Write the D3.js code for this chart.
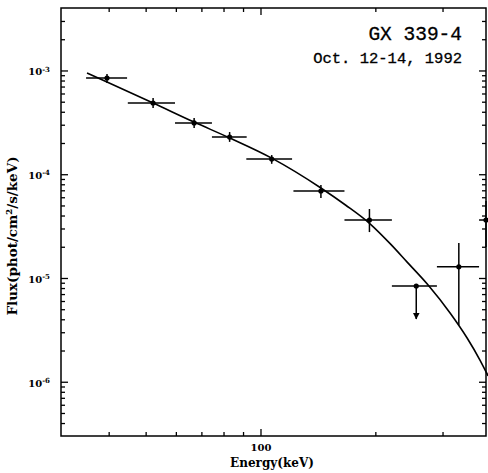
<!DOCTYPE html>
<html>
<head>
<meta charset="utf-8">
<script src="https://cdn.jsdelivr.net/npm/d3@7"></script>
<style>
  html, body { margin: 0; padding: 0; background: #fff; }
  svg { display: block; }
</style>
</head>
<body>
<div class="spectrum-canvas"></div>
<script>
// OSSE spectrum points (energy in keV, flux in phot/cm^2/s/keV)
let energy = [39.6, 52.3, 67, 83, 107, 144, 193, 256, 331, 390];
let energyLo = [34.9, 44.9, 59.7, 74.6, 91.8, 122, 166, 221, 290, 374];
let energyHi = [44.7, 59.7, 74.6, 92, 121, 166, 221, 290, 374, 450];
let flux = [8.46e-4, 4.86e-4, 3.12e-4, 2.28e-4, 1.40e-4, 6.89e-5, 3.62e-5, 8.37e-6, 1.28e-5, 3.62e-5];
let fluxLo = [7.57e-4, 4.35e-4, 2.79e-4, 2.05e-4, 1.26e-4, 5.90e-5, 2.77e-5, 4.03e-6, 3.52e-6, 1.99e-5];
let fluxHi = [9.24e-4, 5.43e-4, 3.48e-4, 2.55e-4, 1.53e-4, 7.87e-5, 4.62e-5, 8.37e-6, 2.17e-5, 5.52e-5];
let upperLimit = [false, false, false, false, false, false, false, true, false, false];

// model curve
let modelEnergy = [35.1, 39.6, 52.3, 67, 83.2, 107, 144, 167, 194, 219, 242, 275, 314, 348, 376, 395];
let modelFlux = [9.45e-4, 7.74e-4, 4.86e-4, 3.18e-4, 2.23e-4, 1.43e-4, 7.37e-5, 5.05e-5, 3.31e-5, 2.13e-5, 1.43e-5, 8.56e-6, 4.60e-6, 2.64e-6, 1.62e-6, 1.14e-6];

// axis ticks
let xMajor = [100];
let xMinor = [40, 50, 60, 70, 80, 90, 200, 300];
let yMajor = [1e-3, 1e-4, 1e-5, 1e-6];
let yMinor = [];
for (let dec of [1e-7, 1e-6, 1e-5, 1e-4, 1e-3]) {
  for (let m = 2; m <= 9; m++) yMinor.push(m * dec);
}

let titleLines = ["GX 339-4", "Oct. 12-14, 1992"];

let width = 488, height = 473;
let margin = { left: 61, right: 486, top: 8, bottom: 436 };

let svg = d3.select(".spectrum-canvas")
  .append("svg")
  .attr("width", width)
  .attr("height", height)
  .attr("viewBox", [0, 0, width, height]);

let x = d3.scaleLog().domain([30, 390]).range([margin.left, margin.right]);
let y = d3.scaleLog().domain([3e-7, 4e-3]).range([margin.bottom, margin.top]);
yMinor = yMinor.filter(v => v > 3e-7 && v < 4e-3);

let serif = "'DejaVu Serif', 'Liberation Serif', serif";

// axes with inward ticks on all four sides
function tickAxis(axis, values, size, pos) {
  let g = svg.append("g")
    .attr("transform", pos)
    .call(axis.tickValues(values).tickSize(size).tickSizeOuter(0).tickFormat(""));
  g.select(".domain").remove();
  g.selectAll(".tick line").attr("stroke", "#000").attr("stroke-width", 1.3);
  return g;
}

tickAxis(d3.axisBottom(x), xMinor, -4, `translate(0,${margin.bottom})`);
tickAxis(d3.axisTop(x), xMinor, -4, `translate(0,${margin.top})`);
tickAxis(d3.axisTop(x), xMajor, -7, `translate(0,${margin.top})`);
tickAxis(d3.axisLeft(y), yMinor, -4, `translate(${margin.left},0)`);
tickAxis(d3.axisRight(y), yMinor, -4, `translate(${margin.right},0)`);
tickAxis(d3.axisRight(y), yMajor, -7, `translate(${margin.right},0)`);

let xAxis = svg.append("g")
  .attr("transform", `translate(0,${margin.bottom})`)
  .call(d3.axisBottom(x).tickValues(xMajor).tickSize(-7).tickSizeOuter(0).tickPadding(8)
    .tickFormat(d3.format("d")));
xAxis.select(".domain").remove();
xAxis.selectAll(".tick line").attr("stroke", "#000").attr("stroke-width", 1.3);
xAxis.selectAll(".tick text")
  .attr("fill", "#000")
  .attr("font-family", serif)
  .attr("font-weight", "bold")
  .attr("font-size", "10px");

let yAxis = svg.append("g")
  .attr("transform", `translate(${margin.left},0)`)
  .call(d3.axisLeft(y).tickValues(yMajor).tickSize(-7).tickSizeOuter(0).tickPadding(11)
    .tickFormat(""));
yAxis.select(".domain").remove();
yAxis.selectAll(".tick line").attr("stroke", "#000").attr("stroke-width", 1.3);
yAxis.selectAll(".tick text")
  .attr("fill", "#000")
  .attr("font-family", serif)
  .attr("font-weight", "bold")
  .attr("font-size", "10px")
  .attr("dy", "0.45em")
  .each(function(d) {
    let t = d3.select(this);
    t.append("tspan").text("10");
    t.append("tspan")
      .attr("dy", "-0.55em")
      .attr("font-size", "7px")
      .text("-" + Math.round(-Math.log10(d)));
  });

// frame
svg.append("rect")
  .attr("x", margin.left)
  .attr("y", margin.top)
  .attr("width", margin.right - margin.left)
  .attr("height", margin.bottom - margin.top)
  .attr("fill", "none")
  .attr("stroke", "#000")
  .attr("stroke-width", 1.5);

// model curve
let line = d3.line()
  .x(d => x(d[0]))
  .y(d => y(d[1]))
  .curve(d3.curveMonotoneX);

svg.append("path")
  .datum(d3.zip(modelEnergy, modelFlux))
  .attr("fill", "none")
  .attr("stroke", "#000")
  .attr("stroke-width", 1.6)
  .attr("d", line);

// data points with error bars
svg.append("defs").append("marker")
  .attr("id", "arrow")
  .attr("viewBox", "0 0 10 10")
  .attr("refX", 9)
  .attr("refY", 5)
  .attr("markerWidth", 4.5)
  .attr("markerHeight", 4.5)
  .attr("orient", "auto")
  .append("path")
  .attr("d", "M0,0L10,5L0,10Z")
  .attr("fill", "#000");

let points = svg.append("g")
  .attr("stroke", "#000")
  .attr("stroke-width", 1.5)
  .selectAll("g")
  .data(energy.map((e, i) => i))
  .join("g");

points.append("line")
  .attr("x1", i => x(energyLo[i]))
  .attr("x2", i => x(energyHi[i]))
  .attr("y1", i => y(flux[i]))
  .attr("y2", i => y(flux[i]));

points.append("line")
  .attr("x1", i => x(energy[i]))
  .attr("x2", i => x(energy[i]))
  .attr("y1", i => y(upperLimit[i] ? flux[i] : fluxHi[i]))
  .attr("y2", i => y(fluxLo[i]))
  .attr("marker-end", i => upperLimit[i] ? "url(#arrow)" : null);

points.append("circle")
  .attr("cx", i => x(energy[i]))
  .attr("cy", i => y(flux[i]))
  .attr("r", 2.6)
  .attr("fill", "#000")
  .attr("stroke", "none");

// titles
svg.append("g")
  .attr("font-family", "'Courier New', 'Liberation Mono', monospace")
  .attr("text-anchor", "end")
  .attr("fill", "#000")
  .selectAll("text")
  .data(titleLines)
  .join("text")
  .attr("x", 462)
  .attr("y", (d, i) => i == 0 ? 40 : 63)
  .attr("font-size", (d, i) => i == 0 ? "19.5px" : "15.5px")
  .attr("stroke", "#000")
  .attr("stroke-width", 0.3)
  .text(d => d);

// axis titles
svg.append("text")
  .attr("x", 272)
  .attr("y", 467)
  .attr("text-anchor", "middle")
  .attr("font-family", serif)
  .attr("font-weight", "bold")
  .attr("font-size", "12px")
  .text("Energy(keV)");

svg.append("text")
  .attr("transform", `translate(17,236) rotate(-90)`)
  .attr("text-anchor", "middle")
  .attr("font-family", serif)
  .attr("font-weight", "bold")
  .attr("font-size", "13.5px")
  .text("Flux(phot/cm²/s/keV)");
</script>
</body>
</html>
